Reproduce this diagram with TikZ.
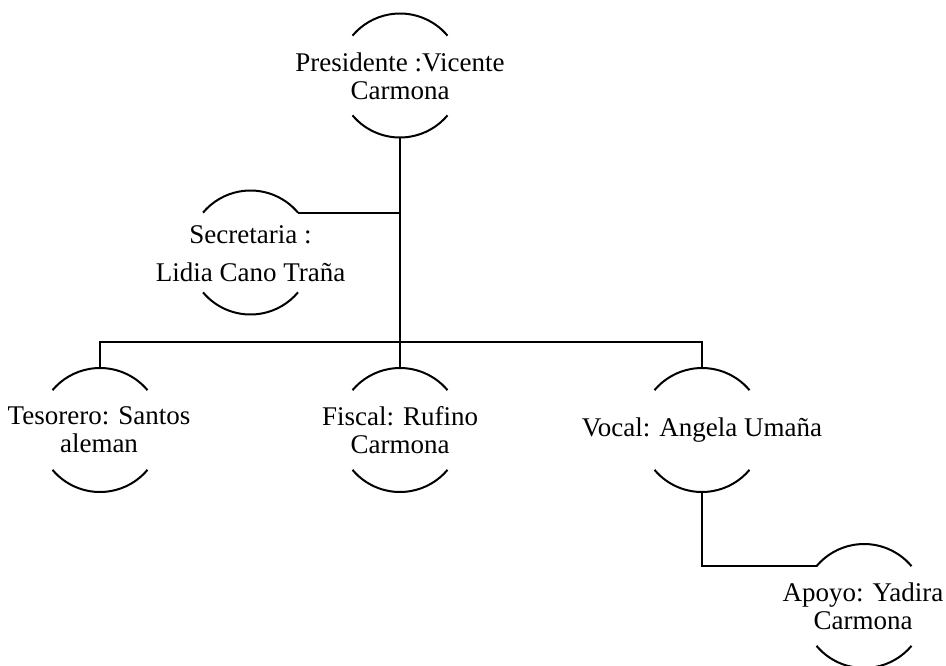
\documentclass[tikz,border=0pt]{standalone}
\usepackage{fontspec}
\setmainfont{Liberation Serif}
\usetikzlibrary{calc}
\usetikzlibrary{positioning}

\tikzset{
  ring/.style={circle, minimum size=62pt, inner sep=0pt, outer sep=0pt},
  who/.style={align=center, inner sep=0pt, font=\fontsize{13.5}{13.9}\selectfont}
}

\begin{document}
\begin{tikzpicture}[x=0.5pt, y=-0.5pt, line width=1pt]
    \useasboundingbox (0,0) rectangle (946,665);

    \node[ring] (pres) at (400, 75.5) {};
    \node[ring] (sec) at (250.5, 252.5) {};
    \node[ring] (tes) at (100, 430) {};
    \node[ring] (fis) at (400, 430) {};
    \node[ring] (voc) at (702, 430) {};
    \node[ring] (apo) at (864, 606) {};

    \foreach \n in {pres,sec,tes,fis,voc,apo}
      {
        \draw (\n.40) arc[start angle=40, end angle=140, radius=31pt];
        \draw (\n.220) arc[start angle=220, end angle=320, radius=31pt];
      }

    \node[who] (pres-t) at (400, 76) {Presidente :Vicente\\Carmona};
    \node[who] (sec-t) at (250.5, 254) {Secretaria :\\[5.2pt]Lidia Cano Traña};
    \node[who] (tes-t) at (99, 430) {Tesorero: Santos\\aleman};
    \node[who] (fis-t) at (400, 430) {Fiscal: Rufino\\Carmona};
    \node[who] (voc-t) at (702, 430) {Vocal: Angela Umaña};
    \node[who] (apo-t) at (863, 606) {Apoyo: Yadira\\Carmona};

    \coordinate (bus) at (400, 341.5);
    \draw (pres.south) -- (bus);
    \draw (sec.40) -- (sec.40 -| pres.south);
    \draw (tes.north) -- (tes.north |- bus) -- (voc.north |- bus) -- (voc.north);
    \draw (fis.north) -- (bus);
    \draw (voc.south) |- (apo.140);
  \end{tikzpicture}
\end{document}
